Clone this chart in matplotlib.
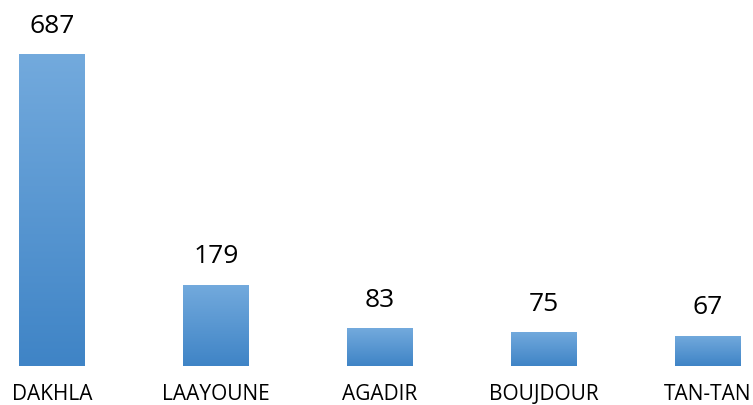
import matplotlib
matplotlib.use("Agg")
import matplotlib.pyplot as plt
import numpy as np
from matplotlib.colors import LinearSegmentedColormap

# Data
cities = ["DAKHLA", "LAAYOUNE", "AGADIR", "BOUJDOUR", "TAN-TAN"]
counts = [687, 179, 83, 75, 67]

TOP_COLOR = "#73aadd"
BOTTOM_COLOR = "#3f84c6"

plt.rcParams["font.family"] = ["Open Sans", "DejaVu Sans"]

fig = plt.figure(figsize=(7.53, 4.05), dpi=100)
ax = fig.add_axes([0, 39 / 405, 1, 366 / 405])

x = np.arange(len(cities))
bars = ax.bar(x, counts, width=0.40, color="none", edgecolor="none")

# vertical gradient inside each bar
cmap = LinearSegmentedColormap.from_list("bar", [BOTTOM_COLOR, TOP_COLOR])
grad = np.linspace(0, 1, 256).reshape(-1, 1)
for b in bars:
    x0, w, h = b.get_x(), b.get_width(), b.get_height()
    im = ax.imshow(grad, cmap=cmap, origin="lower", aspect="auto",
                   extent=(x0, x0 + w, 0, h), zorder=2)
    im.set_clip_path(b)

for xi, v in zip(x, counts):
    ax.annotate(f"{v}", (xi, v), xytext=(0, 11), textcoords="offset points",
                ha="center", va="bottom", fontsize=19, color="black")

ax.set_xlim(-52 / 164, (753 - 52) / 164)
ax.set_ylim(0, 806)
ax.set_xticks(x)
ax.set_xticklabels(cities, fontsize=15)
ax.tick_params(axis="x", length=0, pad=13)
ax.set_yticks([])
for s in ax.spines.values():
    s.set_visible(False)
ax.patch.set_visible(False)

fig.savefig("out.png", dpi=100)
